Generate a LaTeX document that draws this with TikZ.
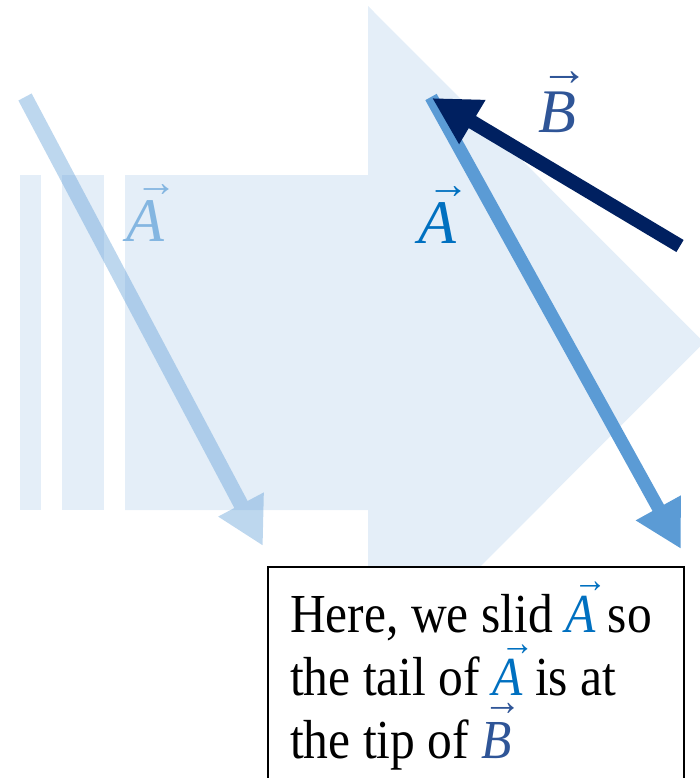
\documentclass[tikz,border=0pt]{standalone}
\usepackage{fontspec}
\setmainfont{Liberation Serif}
\newfontfamily\boxfont[FakeStretch=0.9]{Liberation Serif}
\usetikzlibrary{arrows.meta}
\definecolor{bgblue}{HTML}{E4EEF8}
\definecolor{midA}{HTML}{5B9BD5}
\definecolor{labA}{HTML}{0070C0}
\definecolor{labAlight}{HTML}{84B6E1}
\definecolor{darkB}{HTML}{002060}
\definecolor{labB}{HTML}{2F5597}
\newcommand\arrowover[4]{\leavevmode\rlap{\kern#2\raisebox{#3}[0pt][0pt]{\scalebox{#4}{→}}}#1}
\newcommand\vecit[1]{\arrowover{\textit{#1}}{0.15em}{0.72em}{0.68}}
\newcommand\vecfull[1]{\arrowover{\textit{#1}}{0.04em}{0.77em}{0.78}}
\tikzset{
  bgshape/.style={fill=bgblue, draw=none},
  vectorline/.style={-{Triangle[length=47pt,width=48pt]}},
  lbl/.style={font=\fontsize{62}{70}\selectfont, inner sep=0pt, anchor=base west},
  boxtext/.style={font=\boxfont\fontsize{55}{63}\selectfont, inner sep=0pt, anchor=base west},
  notebox/.style={draw=black, line width=2pt, fill=white}
}
\begin{document}
\begin{tikzpicture}[x=1pt,y=-1pt]
\useasboundingbox (0,0) rectangle (700,778);
% background striped arrow
\fill[bgshape] (20,175) rectangle (41,510);
\fill[bgshape] (62,175) rectangle (104,510);
\fill[bgshape] (125,175) -- (368,175) -- (368,6) -- (704,342.5) -- (368,679) -- (368,510) -- (125,510) -- cycle;
% coordinates
\coordinate (lAs) at (25,97);
\coordinate (lAe) at (263,546);
\coordinate (mAs) at (431,97);
\coordinate (mAe) at (681,549);
\coordinate (Bs) at (680,246);
\coordinate (Be) at (432,98);
% faded A
\begin{scope}[transparency group, opacity=0.4]
\draw[vectorline, midA, line width=15pt] (lAs) -- (lAe);
\end{scope}
\node[lbl, text=labAlight] (labelAlight) at (126,241) {\vecit{A}};
% note box
\draw[notebox] (268,567) rectangle (684,800);
\node[boxtext] (l1) at (290,632) {Here, we slid {\color{labA}\vecit{A}} so};
\node[boxtext] (l2) at (290,695) {the tail of {\color{labA}\vecit{A}} is at};
\node[boxtext] (l3) at (290,758) {the tip of {\color{labB}\vecfull{B}}};
% moved A
\draw[vectorline, midA, line width=13pt] (mAs) -- (mAe);
\node[lbl, text=labA] (labelA) at (418,243) {\vecit{A}};
% B
\draw[vectorline, darkB, line width=14pt] (Bs) -- (Be);
\node[lbl, text=labB] (labelB) at (538,133) {\vecfull{B}};
\end{tikzpicture}
\end{document}
